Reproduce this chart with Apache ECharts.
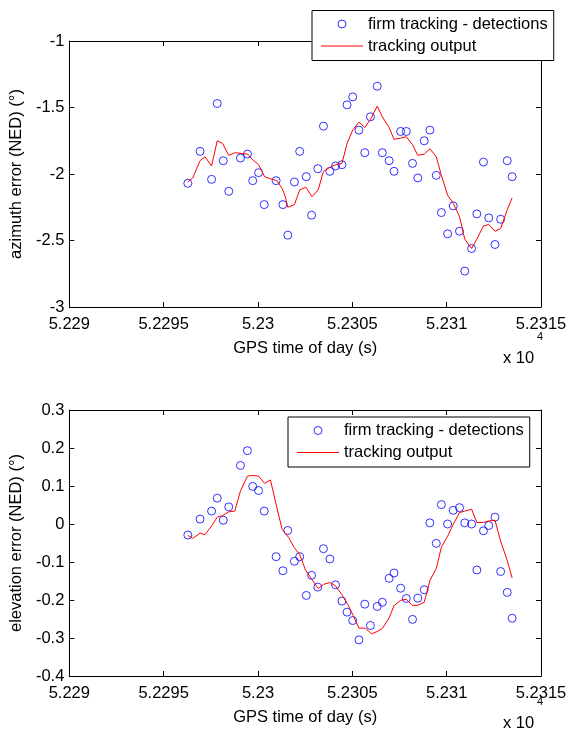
<!DOCTYPE html>
<html lang="en">
<head>
	<meta charset="UTF-8">
	<title>tracking error</title>
	<script src="https://cdn.jsdelivr.net/npm/echarts@6/dist/echarts.min.js"></script>
</head>
<body style="margin:0;background:#fff;">

<div id="main" style="width: 570px;height:730px;"></div>

<script type="text/javascript">
// detection times (s), shared by both plots
var detTime = [52296.28, 52296.93, 52297.54, 52297.84, 52298.16, 52298.45, 52299.07, 52299.44, 52299.72, 52300.03,
    52300.33, 52300.96, 52301.32, 52301.58, 52301.93, 52302.21, 52302.56, 52302.84, 52303.17, 52303.47,
    52303.81, 52304.11, 52304.45, 52304.72, 52305.02, 52305.35, 52305.66, 52305.96, 52306.32, 52306.59,
    52306.95, 52307.21, 52307.56, 52307.86, 52308.19, 52308.47, 52308.81, 52309.11, 52309.45, 52309.72,
    52310.05, 52310.35, 52310.68, 52310.96, 52311.32, 52311.60, 52311.95, 52312.23, 52312.56, 52312.86,
    52313.21, 52313.47];

var azDet = [-2.07, -1.83, -2.04, -1.47, -1.90, -2.13, -1.88, -1.85, -2.05, -1.99,
    -2.23, -2.05, -2.23, -2.46, -2.06, -1.83, -2.02, -2.31, -1.96, -1.64,
    -1.98, -1.94, -1.93, -1.48, -1.42, -1.67, -1.84, -1.57, -1.34, -1.84,
    -1.90, -1.98, -1.68, -1.68, -1.92, -2.03, -1.75, -1.67, -2.01, -2.29,
    -2.45, -2.24, -2.43, -2.73, -2.56, -2.30, -1.91, -2.33, -2.53, -2.34,
    -1.90, -2.02];

var elDet = [-0.029, 0.013, 0.034, 0.068, 0.010, 0.045, 0.154, 0.193, 0.099, 0.088,
    0.034, -0.086, -0.123, -0.017, -0.098, -0.086, -0.188, -0.135, -0.166, -0.065,
    -0.092, -0.160, -0.203, -0.232, -0.254, -0.305, -0.211, -0.267, -0.217, -0.206,
    -0.143, -0.129, -0.169, -0.196, -0.251, -0.195, -0.173, 0.003, -0.051, 0.051,
    0.000, 0.036, 0.043, 0.003, 0.000, -0.121, -0.018, -0.004, 0.018, -0.125,
    -0.180, -0.248];

// tracking output, azimuth
var azOutTime = [52296.28, 52296.54, 52296.93, 52297.19, 52297.54, 52297.84, 52298.12, 52298.45, 52298.77, 52299.44,
    52299.70, 52300.03, 52300.35, 52300.75, 52301.00, 52301.28, 52301.45, 52301.58, 52301.93, 52302.21,
    52302.54, 52302.86, 52303.19, 52303.47, 52303.81, 52304.11, 52304.45, 52304.72, 52305.02, 52305.35,
    52305.66, 52305.96, 52306.32, 52306.59, 52306.95, 52307.21, 52307.56, 52307.86, 52308.19, 52308.47,
    52308.81, 52309.11, 52309.45, 52309.72, 52310.05, 52310.35, 52310.68, 52310.96, 52311.32, 52311.60,
    52311.95, 52312.23, 52312.56, 52312.86, 52313.21, 52313.47];
var azOut = [-2.06, -2.03, -1.90, -1.87, -1.94, -1.75, -1.77, -1.86, -1.84, -1.85,
    -1.89, -1.93, -2.02, -2.04, -2.05, -2.11, -2.17, -2.25, -2.23, -2.12,
    -2.10, -2.17, -2.12, -1.98, -1.95, -1.93, -1.92, -1.77, -1.67, -1.61,
    -1.65, -1.59, -1.49, -1.57, -1.65, -1.74, -1.73, -1.72, -1.78, -1.86,
    -1.85, -1.81, -1.87, -2.01, -2.16, -2.22, -2.32, -2.49, -2.56, -2.49,
    -2.39, -2.38, -2.43, -2.41, -2.27, -2.18];

// tracking output, elevation
var elOutTime = [52296.28, 52296.54, 52296.93, 52297.19, 52297.54, 52297.84, 52298.12, 52298.45, 52298.77, 52299.07,
    52299.44, 52299.70, 52300.03, 52300.35, 52300.66, 52300.98, 52301.28, 52301.63, 52301.93, 52302.21,
    52302.51, 52302.86, 52303.19, 52303.47, 52303.81, 52304.11, 52304.45, 52304.76, 52305.05, 52305.35,
    52305.68, 52306.02, 52306.32, 52306.59, 52306.95, 52307.21, 52307.56, 52307.86, 52308.17, 52308.47,
    52308.81, 52309.11, 52309.45, 52309.72, 52310.05, 52310.35, 52310.68, 52310.96, 52311.32, 52311.60,
    52311.95, 52312.23, 52312.56, 52312.86, 52313.21, 52313.47];
var elOut = [-0.030, -0.038, -0.024, -0.028, -0.005, 0.018, 0.022, 0.032, 0.034, 0.087,
    0.126, 0.128, 0.126, 0.107, 0.116, 0.047, -0.014, -0.036, -0.063, -0.080,
    -0.120, -0.146, -0.170, -0.159, -0.154, -0.163, -0.186, -0.212, -0.241, -0.274,
    -0.274, -0.289, -0.283, -0.275, -0.247, -0.215, -0.201, -0.198, -0.214, -0.214,
    -0.206, -0.149, -0.117, -0.061, -0.032, -0.001, 0.030, 0.034, 0.039, 0.004,
    0.004, 0.008, 0.010, -0.045, -0.096, -0.142];

var detName = 'firm tracking - detections';
var outName = 'tracking output';

function zip(a, b) {
    var r = [];
    for (var i = 0; i < a.length; i++) r.push([a[i], b[i]]);
    return r;
}

var FONT = '"Liberation Sans", Arial, Helvetica, sans-serif';
var FS = 16.5;

function xAxes(grid) {
    var base = {
        gridIndex: grid, type: 'value', min: 52290, max: 52315, interval: 5,
        axisLine: {show: true, onZero: false, lineStyle: {color: '#000', width: 1}},
        axisTick: {show: true, inside: true, length: 5, lineStyle: {color: '#000'}},
        splitLine: {show: false}
    };
    var bottom = echarts.util.merge({
        position: 'bottom',
        name: 'GPS time of day (s)', nameLocation: 'middle', nameGap: 33,
        nameTextStyle: {fontFamily: FONT, fontSize: FS, color: '#000'},
        axisLabel: {
            margin: 9, fontFamily: FONT, fontSize: FS, color: '#000',
            formatter: function (v) { return String(+(v / 10000).toFixed(4)); }
        }
    }, base, true);
    var top = echarts.util.merge({position: 'top', axisLabel: {show: false}}, base, true);
    return [bottom, top];
}

function yAxes(grid, min, max, step, title) {
    var base = {
        gridIndex: grid, type: 'value', min: min, max: max, interval: step,
        axisLine: {show: true, onZero: false, lineStyle: {color: '#000', width: 1}},
        axisTick: {show: true, inside: true, length: 5, lineStyle: {color: '#000'}},
        splitLine: {show: false}
    };
    var left = echarts.util.merge({
        position: 'left',
        name: title, nameLocation: 'middle', nameGap: 40,
        nameTextStyle: {fontFamily: FONT, fontSize: FS, color: '#000'},
        axisLabel: {
            margin: 5, fontFamily: FONT, fontSize: FS, color: '#000',
            formatter: function (v) { return String(+v.toFixed(2)); }
        }
    }, base, true);
    var right = echarts.util.merge({position: 'right', axisLabel: {show: false}}, base, true);
    return [left, right];
}

function legendFor(left, top) {
    return {
        orient: 'vertical', left: left, top: top, z: 10,
        data: [
            {name: detName, icon: 'circle',
                itemStyle: {color: 'rgba(0,0,0,0)', borderColor: '#0000ff', borderWidth: 1}},
            // flat red bar as the line sample
            {name: outName, icon: 'path://M0,0H42V1.2H0Z',
                itemStyle: {color: '#ff0000', borderColor: '#ff0000', borderWidth: 0}}
        ],
        itemWidth: 42, itemHeight: 8, itemGap: 5,
        padding: [5, 6, 6, 9],
        backgroundColor: '#fff', borderColor: '#000', borderWidth: 1, borderRadius: 0,
        textStyle: {fontFamily: FONT, fontSize: FS, color: '#000'},
        selectedMode: false
    };
}

function detSeries(xi, yi, data) {
    return {
        name: detName, type: 'scatter', xAxisIndex: xi, yAxisIndex: yi,
        symbol: 'circle', symbolSize: 8,
        itemStyle: {color: 'rgba(0,0,0,0)', borderColor: '#0000ff', borderWidth: 1},
        emphasis: {disabled: true},
        data: data
    };
}

function outSeries(xi, yi, data) {
    return {
        name: outName, type: 'line', xAxisIndex: xi, yAxisIndex: yi,
        symbol: 'none', lineStyle: {color: '#ff0000', width: 1}, itemStyle: {color: '#ff0000'},
        emphasis: {disabled: true},
        data: data
    };
}

var myChart = echarts.init(document.getElementById('main'));

var option = {
    animation: false,
    backgroundColor: '#fff',
    grid: [
        {left: 66, right: 29, top: 41, height: 266},
        {left: 66, right: 29, top: 410, height: 266}
    ],
    xAxis: xAxes(0).concat(xAxes(1)),
    yAxis: yAxes(0, -3, -1, 0.5, 'azimuth error (NED) (°)')
        .concat(yAxes(1, -0.4, 0.3, 0.1, 'elevation error (NED) (°)')),
    legend: [legendFor(312, 10.5), legendFor(288, 417)],
    graphic: [
        {type: 'text', left: 503, top: 350, style: {text: 'x 10', fontFamily: FONT, fontSize: FS, fill: '#000'}},
        {type: 'text', left: 537, top: 331, style: {text: '4', fontFamily: FONT, fontSize: 11, fill: '#000'}},
        {type: 'text', left: 503, top: 715, style: {text: 'x 10', fontFamily: FONT, fontSize: FS, fill: '#000'}},
        {type: 'text', left: 537, top: 696, style: {text: '4', fontFamily: FONT, fontSize: 11, fill: '#000'}}
    ],
    series: [
        detSeries(0, 0, zip(detTime, azDet)),
        outSeries(0, 0, zip(azOutTime, azOut)),
        detSeries(2, 2, zip(detTime, elDet)),
        outSeries(2, 2, zip(elOutTime, elOut))
    ]
};

myChart.setOption(option);
</script>

</body>
</html>
